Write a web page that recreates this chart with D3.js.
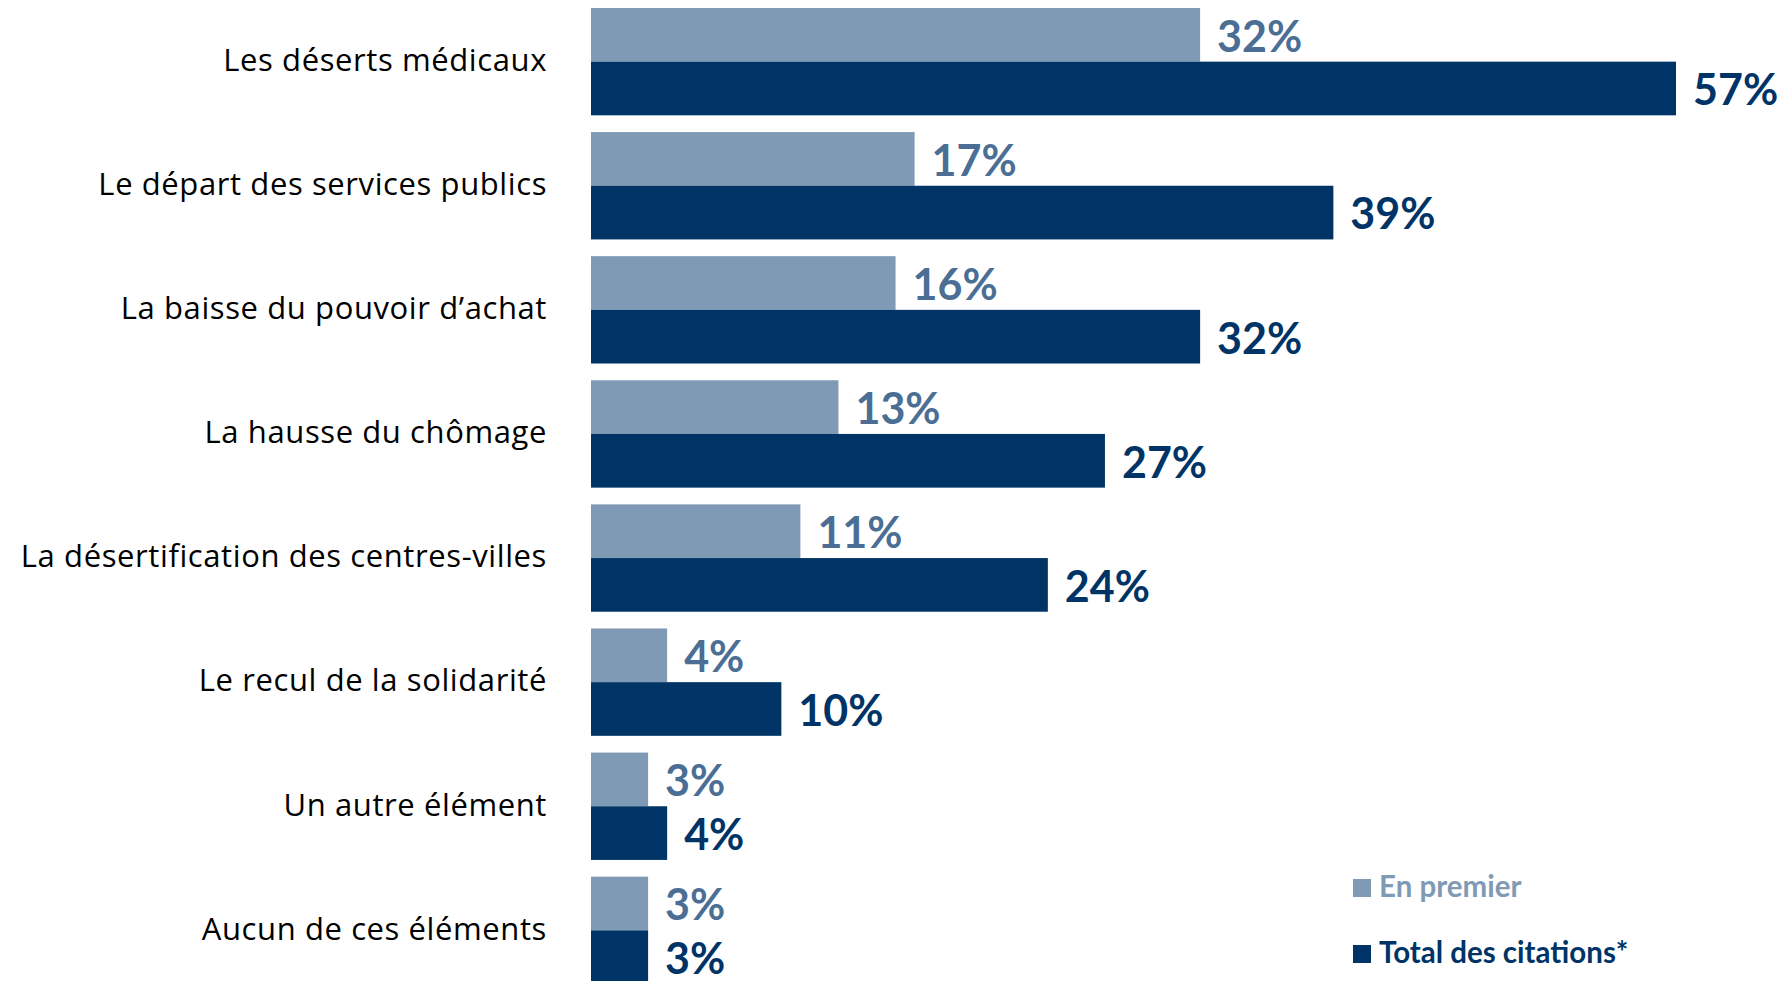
<!DOCTYPE html>
<html>
<head>
<meta charset="utf-8">
<script src="https://cdn.jsdelivr.net/npm/d3@7"></script>
<style>
  html, body { margin: 0; padding: 0; background: #fff; }
  svg { display: block; }
  .cat { font-family: "Open Sans", Lato, sans-serif; fill: #000; letter-spacing: 0.6px; }
  .val { font-family: Lato, "Open Sans", sans-serif; font-weight: 700; }
  .leg { font-family: Lato, "Open Sans", sans-serif; font-weight: 700; }
</style>
</head>
<body>
<svg id="chart" width="1790" height="981"></svg>
<script>
// Facteurs cités
const categories = [
  "Les déserts médicaux",
  "Le départ des services publics",
  "La baisse du pouvoir d’achat",
  "La hausse du chômage",
  "La désertification des centres-villes",
  "Le recul de la solidarité",
  "Un autre élément",
  "Aucun de ces éléments"
];
const seriesNames = ["En premier", "Total des citations*"];
const enPremier = [32, 17, 16, 13, 11, 4, 3, 3];
const totalCitations = [57, 39, 32, 27, 24, 10, 4, 3];

const colors = { light: "#7f9ab4", lightText: "#4b6e95", dark: "#003466" };

const svg = d3.select("#chart");

const x = d3.scaleLinear().domain([0, 57]).range([591, 1676]);

const y = d3.scaleBand()
  .domain(categories)
  .range([-0.4, 992.4])
  .paddingInner(0.135)
  .paddingOuter(0.0675);

const sub = d3.scaleBand()
  .domain(seriesNames)
  .range([0, y.bandwidth()]);

const rows = categories.map((c, i) => ({
  cat: c,
  values: [
    { key: seriesNames[0], v: enPremier[i], fill: colors.light, text: colors.lightText },
    { key: seriesNames[1], v: totalCitations[i], fill: colors.dark, text: colors.dark }
  ]
}));

const g = svg.selectAll("g.row").data(rows).join("g")
  .attr("class", "row")
  .attr("transform", d => `translate(0,${y(d.cat)})`);

g.selectAll("rect").data(d => d.values).join("rect")
  .attr("x", x(0))
  .attr("y", d => sub(d.key))
  .attr("width", d => x(d.v) - x(0))
  .attr("height", sub.bandwidth())
  .attr("fill", d => d.fill);

g.selectAll("text.val").data(d => d.values).join("text")
  .attr("class", "val")
  .attr("x", d => x(d.v) + 17)
  .attr("y", d => sub(d.key) + sub.bandwidth() - 10)
  .attr("font-size", 43)
  .attr("fill", d => d.text)
  .text(d => d.v + "%");

// Category axis labels
const axis = d3.axisLeft(y).tickSize(0).tickPadding(0);
const ax = svg.append("g").attr("transform", `translate(${547},0)`).call(axis);
ax.select(".domain").remove();
ax.selectAll("text")
  .attr("class", "cat")
  .attr("font-size", 31)
  .attr("dy", "0.3em")
  .attr("fill", "#000");

// Legend
const legend = svg.append("g").attr("transform", "translate(1353,0)");
const legItems = [
  { name: seriesNames[0], fill: colors.light, baseline: 897 },
  { name: seriesNames[1], fill: colors.dark, baseline: 963 }
];
const li = legend.selectAll("g").data(legItems).join("g");
li.append("rect")
  .attr("x", 0)
  .attr("y", d => d.baseline - 18)
  .attr("width", 18)
  .attr("height", 18)
  .attr("fill", d => d.fill);
li.append("text")
  .attr("class", "leg")
  .attr("x", 26)
  .attr("y", d => d.baseline)
  .attr("font-size", 29.5)
  .attr("fill", d => d.fill)
  .text(d => d.name);
</script>
</body>
</html>
